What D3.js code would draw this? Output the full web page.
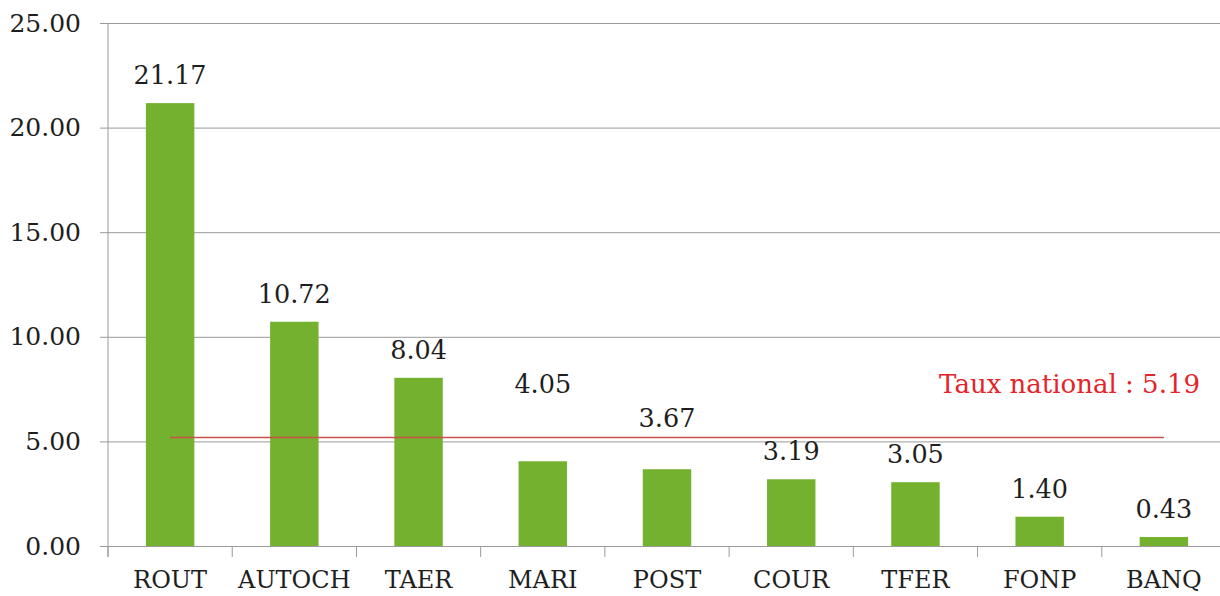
<!DOCTYPE html>
<html>
<head>
<meta charset="utf-8">
<script src="https://cdn.jsdelivr.net/npm/d3@7"></script>
<style>
  body { margin: 0; background: #fff; }
  svg { display: block; }
</style>
</head>
<body>
<div id="chart"></div>
<script>
// data
var categories = ["ROUT", "AUTOCH", "TAER", "MARI", "POST", "COUR", "TFER", "FONP", "BANQ"];
var values = [21.17, 10.72, 8.04, 4.05, 3.67, 3.19, 3.05, 1.40, 0.43];
var yTicks = [0, 5, 10, 15, 20, 25];
var nationalRate = 5.19;
var nationalLabel = "Taux national : ";

var W = 1220, H = 596;
var margin = {top: 23, right: -6, bottom: 50, left: 108};
var width = W - margin.left - margin.right,
    height = H - margin.top - margin.bottom;
var font = "'DejaVu Serif', 'Liberation Serif', serif";

// some value labels were moved up in the original to clear the red line
var labelLift = {"MARI": 49, "POST": 23};

var svg = d3.select("#chart").append("svg")
    .attr("width", W)
    .attr("height", H)
    .append("g")
    .attr("transform", "translate(" + margin.left + "," + margin.top + ")");

var x = d3.scaleBand()
    .domain(categories)
    .range([0, width])
    .paddingInner(0.61)
    .paddingOuter(0.305);

var y = d3.scaleLinear()
    .domain([0, 25])
    .range([height, 0]);

// y axis + gridlines
var yAxis = svg.append("g")
    .call(d3.axisLeft(y).tickValues(yTicks).tickFormat(d3.format(".2f"))
        .tickSizeInner(-width).tickSizeOuter(0).tickPadding(27));
yAxis.select(".domain").remove();
yAxis.selectAll(".tick line").attr("x1", -8).attr("stroke", "#9a9a9a");
yAxis.selectAll(".tick text")
    .attr("font-family", font)
    .attr("font-size", 25)
    .attr("fill", "#1e1e1e");
svg.append("line")
    .attr("x1", 0).attr("x2", 0)
    .attr("y1", 0).attr("y2", height + 11)
    .attr("stroke", "#9a9a9a");

// x axis: boundary ticks + labels
var xAxis = svg.append("g").attr("transform", "translate(0," + height + ")");
xAxis.selectAll(".sep")
    .data(d3.range(categories.length + 1))
    .enter().append("line")
    .attr("x1", function(i) { return x.step() * i; })
    .attr("x2", function(i) { return x.step() * i; })
    .attr("y1", 0).attr("y2", 11)
    .attr("stroke", "#9a9a9a");
xAxis.selectAll(".lbl")
    .data(categories)
    .enter().append("text")
    .attr("x", function(d) { return x(d) + x.bandwidth() / 2; })
    .attr("y", 42)
    .attr("text-anchor", "middle")
    .attr("font-family", font)
    .attr("font-size", 24)
    .attr("fill", "#1e1e1e")
    .text(function(d) { return d; });

// bars
svg.selectAll(".bar")
    .data(categories)
    .enter().append("rect")
    .attr("x", function(d) { return x(d); })
    .attr("width", x.bandwidth())
    .attr("y", function(d, i) { return y(values[i]); })
    .attr("height", function(d, i) { return height - y(values[i]); })
    .attr("fill", "#74b12f");

// value labels
svg.selectAll(".val")
    .data(categories)
    .enter().append("text")
    .attr("x", function(d) { return x(d) + x.bandwidth() / 2; })
    .attr("y", function(d, i) { return y(values[i]) - 19 - (labelLift[d] || 0); })
    .attr("text-anchor", "middle")
    .attr("font-family", font)
    .attr("font-size", 25.5)
    .attr("fill", "#1e1e1e")
    .text(function(d, i) { return values[i].toFixed(2); });

// national rate line
var first = categories[0], last = categories[categories.length - 1];
svg.append("line")
    .attr("x1", x(first) + x.bandwidth() / 2)
    .attr("x2", x(last) + x.bandwidth() / 2)
    .attr("y1", y(nationalRate))
    .attr("y2", y(nationalRate))
    .attr("stroke", "#c9514c")
    .attr("stroke-width", 1.5);

svg.append("text")
    .attr("x", 1200 - margin.left)
    .attr("y", y(nationalRate) - 44)
    .attr("text-anchor", "end")
    .attr("font-family", font)
    .attr("font-size", 26)
    .attr("fill", "#e3242b")
    .text(nationalLabel + nationalRate.toFixed(2));
</script>
</body>
</html>
